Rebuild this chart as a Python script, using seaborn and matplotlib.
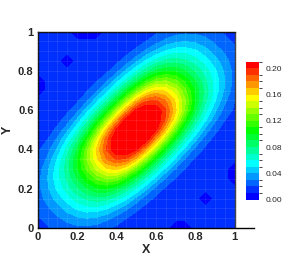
import numpy as np
import seaborn as sns
import matplotlib
matplotlib.use('Agg')
import matplotlib.pyplot as plt
from matplotlib.colors import ListedColormap, BoundaryNorm
from matplotlib.ticker import MultipleLocator, FuncFormatter

# grid node positions (0.05 spacing)
grid_x = np.linspace(0, 1, 21)
grid_y = np.linspace(0, 1, 21)

# field values, one row per y node (bottom to top)
z_rows = [
    [.004, .019, .022, .025, .027, .027, .025, .021, .018, .015, .013, .013, .013, .013, .001, .001, .013, .013, .013, .013, .013],
    [.019, .022, .028, .034, .038, .040, .038, .033, .026, .020, .016, .014, .013, .013, .013, .013, .013, .013, .013, .013, .013],
    [.022, .028, .036, .044, .052, .056, .056, .051, .042, .032, .022, .017, .014, .013, .013, .013, .013, .013, .013, .013, .013],
    [.024, .034, .044, .055, .065, .072, .076, .073, .064, .052, .037, .024, .018, .014, .013, .013, .013, .001, .013, .013, .013],
    [.026, .038, .052, .065, .077, .090, .098, .099, .091, .076, .059, .042, .026, .018, .015, .013, .013, .013, .013, .013, .013],
    [.026, .040, .056, .072, .090, .106, .122, .130, .126, .108, .086, .064, .045, .028, .019, .015, .013, .013, .013, .013, .001],
    [.024, .038, .056, .076, .098, .122, .143, .158, .162, .149, .122, .094, .068, .046, .029, .019, .015, .013, .013, .013, .001],
    [.020, .032, .051, .073, .099, .130, .158, .180, .191, .187, .165, .131, .096, .069, .046, .028, .018, .014, .013, .013, .013],
    [.018, .026, .042, .064, .091, .126, .162, .191, .210, .213, .202, .172, .134, .096, .068, .045, .026, .018, .014, .013, .013],
    [.015, .020, .032, .052, .076, .108, .149, .187, .213, .222, .220, .206, .172, .131, .094, .064, .042, .024, .017, .014, .013],
    [.013, .016, .022, .037, .059, .086, .122, .165, .202, .220, .225, .220, .202, .165, .122, .086, .059, .037, .022, .016, .013],
    [.013, .014, .017, .024, .042, .064, .094, .131, .172, .206, .220, .222, .213, .187, .149, .108, .076, .052, .032, .020, .015],
    [.013, .013, .014, .018, .026, .045, .068, .096, .134, .172, .202, .213, .210, .191, .162, .126, .091, .064, .042, .026, .018],
    [.013, .013, .013, .014, .018, .028, .046, .069, .096, .131, .165, .187, .191, .180, .158, .130, .099, .073, .051, .032, .020],
    [.001, .013, .013, .013, .015, .019, .029, .046, .068, .094, .122, .149, .162, .158, .143, .122, .098, .076, .056, .038, .024],
    [.001, .013, .013, .013, .013, .015, .019, .028, .045, .064, .086, .108, .126, .130, .122, .106, .090, .072, .056, .040, .026],
    [.013, .013, .013, .013, .013, .013, .015, .018, .026, .042, .059, .076, .091, .099, .098, .090, .077, .065, .052, .038, .026],
    [.013, .013, .013, .001, .013, .013, .013, .014, .018, .024, .037, .052, .064, .073, .076, .072, .065, .055, .044, .034, .024],
    [.013, .013, .013, .013, .013, .013, .013, .013, .014, .017, .022, .032, .042, .051, .056, .056, .052, .044, .036, .028, .022],
    [.013, .013, .013, .013, .013, .013, .013, .013, .013, .014, .016, .020, .026, .033, .038, .040, .038, .034, .028, .022, .019],
    [.013, .013, .013, .013, .001, .001, .001, .013, .013, .013, .013, .015, .018, .021, .025, .027, .027, .025, .022, .019, .016],
]

levels = [0.00, 0.01, 0.02, 0.03, 0.04, 0.05, 0.06, 0.07, 0.08, 0.09, 0.10,
          0.11, 0.12, 0.13, 0.14, 0.15, 0.16, 0.17, 0.18, 0.19, 0.20, 0.25]
cbar_ticks = [0.00, 0.04, 0.08, 0.12, 0.16, 0.20]

sns.set_style('white')
plt.rcParams['font.family'] = ['Liberation Sans', 'DejaVu Sans']

# tecplot-like small rainbow, one colour per band
rainbow = sns.blend_palette(['#0000ff', '#00ffff', '#00ff00', '#ffff00', '#ff0000'], n_colors=len(levels) - 1)
cmap = ListedColormap(rainbow)
norm = BoundaryNorm(levels, cmap.N)

fig = plt.figure(figsize=(2.89, 2.57), dpi=100)
ax = fig.add_axes([0.1305, 0.1128, 0.7498, 0.764])

cs = ax.contourf(grid_x, grid_y, np.array(z_rows), levels=levels, cmap=cmap, norm=norm)

ax.set_xlim(0, 1.1)
ax.set_ylim(0, 1)
ax.set_axisbelow(False)
ax.grid(which='both', color='white', alpha=0.12, lw=0.5)

fmt = FuncFormatter(lambda v, pos: f'{v:g}')
for axis in (ax.xaxis, ax.yaxis):
    axis.set_major_locator(MultipleLocator(0.2))
    axis.set_minor_locator(MultipleLocator(0.05))
    axis.set_major_formatter(fmt)
ax.tick_params(which='major', direction='in', length=4, width=0.8, labelsize=8, pad=3, color='black')
ax.tick_params(which='minor', direction='in', length=2, width=0.6, color='black')
for lbl in ax.get_xticklabels() + ax.get_yticklabels():
    lbl.set_fontweight('bold')

for side in ('left', 'bottom', 'top'):
    ax.spines[side].set_color('black')
    ax.spines[side].set_linewidth(1)
ax.spines['right'].set_visible(False)
ax.spines['top'].set_bounds(0, 1)
ax.axvline(1, color='#333333', lw=1)

ax.set_xlabel('X', fontweight='bold', fontsize=9, labelpad=1)
ax.set_ylabel('Y', fontweight='bold', fontsize=9, labelpad=3)

# legend bar
cax = fig.add_axes([0.851, 0.2237, 0.045, 0.536])
cb = fig.colorbar(cs, cax=cax, ticks=cbar_ticks, spacing='uniform', format='%.2f')
cb.outline.set_visible(False)
cax.tick_params(length=0, labelsize=6, pad=5)

fig.savefig('out.png', dpi=100)
